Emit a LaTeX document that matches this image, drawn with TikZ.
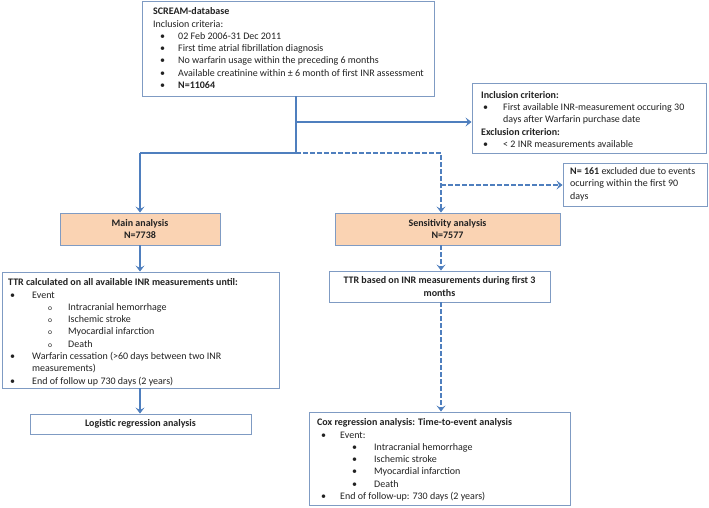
\documentclass[tikz,border=0pt]{standalone}
\usepackage{fontspec}
\setmainfont{Carlito}
\usetikzlibrary{arrows.meta}
\definecolor{boxline}{HTML}{7F9BC3}
\definecolor{arrowc}{HTML}{4F7FBE}
\definecolor{peach}{HTML}{FAD3B3}
\definecolor{txtc}{HTML}{222222}
\newcommand\itm[4]{\hspace*{#1pt}\makebox[\dimexpr #2pt-#1pt\relax][l]{#3}#4}
\newcommand\subm{{\fontsize{7.5}{7.5}\selectfont o}}
\tikzset{
  box/.style={draw=boxline, line width=0.9pt, fill=white, inner sep=0pt},
  txt/.style={anchor=north west, inner sep=0pt, align=left, text=txtc,
    font=\fontsize{10}{12.3}\selectfont},
  ctxt/.style={align=center, text=txtc, font=\fontsize{10}{12.3}\selectfont\bfseries},
  conn/.style={draw=arrowc, line width=1.9pt},
  dconn/.style={draw=arrowc, line width=1.7pt, dash pattern=on 4.5pt off 2.5pt},
  arr/.style={-{Stealth[length=6pt,width=9pt,inset=2.5pt]}}
}
\begin{document}
\begin{tikzpicture}[x=1pt,y=-1pt]
\useasboundingbox (0,0) rectangle (709,507);
% boxes
\node[box, minimum width=292pt, minimum height=95pt] (scream) at (288,48.5) {};
\node[box, minimum width=234pt, minimum height=70pt] (incl) at (589,118) {};
\node[box, minimum width=144pt, minimum height=43pt] (excl) at (635,184.5) {};
\node[box, fill=peach, minimum width=160pt, minimum height=32pt, ctxt] (main) at (140,229) {Main analysis\\N=7738};
\node[box, fill=peach, minimum width=225pt, minimum height=32pt, ctxt] (sens) at (447.5,229) {Sensitivity analysis\\N=7577};
\node[box, minimum width=277pt, minimum height=116pt] (ttr) at (140.5,330) {};
\node[box, minimum width=221pt, minimum height=20pt, ctxt] (logit) at (140.5,424) {Logistic regression analysis};
\node[box, minimum width=221pt, minimum height=31pt, ctxt] (ttr3) at (439.5,286.5) {TTR based on INR measurements during first 3\\months};
\node[box, minimum width=261pt, minimum height=93pt] (cox) at (439.5,458.5) {};
% texts
\node[txt] (screamtxt) at (153,7.5) {\textbf{SCREAM-database}\\
Inclusion criteria:\\
\itm{7}{25}{•}{02 Feb 2006-31 Dec 2011}\\
\itm{7}{25}{•}{First time atrial fibrillation diagnosis}\\
\itm{7}{25}{•}{No warfarin usage within the preceding 6 months}\\
\itm{7}{25}{•}{Available creatinine within ± 6 month of first INR assessment}\\
\itm{7}{25}{•}{\textbf{N=11064}}};
\node[txt] (incltxt) at (481,91) {\textbf{Inclusion criterion:}\\
\itm{2}{22}{•}{First available INR-measurement occuring 30}\\
\hspace*{22pt}days after Warfarin purchase date\\
\textbf{Exclusion criterion:}\\
\itm{2}{22}{•}{< 2 INR measurements available}};
\node[txt] (excltxt) at (570,167.5) {\textbf{N= 161} excluded due to events\\
ocurring within the first 90\\
days};
\node[txt] (ttrtxt) at (8,278.5) {\textbf{TTR calculated on all available INR measurements until:}\\
\itm{2}{24}{•}{Event}\\
\itm{40}{60}{\subm}{Intracranial hemorrhage}\\
\itm{40}{60}{\subm}{Ischemic stroke}\\
\itm{40}{60}{\subm}{Myocardial infarction}\\
\itm{40}{60}{\subm}{Death}\\
\itm{2}{24}{•}{Warfarin cessation (>60 days between two INR}\\
\hspace*{24pt}measurements)\\
\itm{2}{24}{•}{End of follow up 730 days (2 years)}};
\node[txt] (coxtxt) at (317,418.5) {\textbf{Cox regression analysis: Time-to-event analysis}\\
\itm{4}{23}{•}{Event:}\\
\itm{35}{57}{•}{Intracranial hemorrhage}\\
\itm{35}{57}{•}{Ischemic stroke}\\
\itm{35}{57}{•}{Myocardial infarction}\\
\itm{35}{57}{•}{Death}\\
\itm{4}{23}{•}{End of follow-up: 730 days (2 years)}};
% connector coordinates
\coordinate (split) at (296,153);
\coordinate (ji) at (296,122);
\coordinate (jl) at (140,153);
\coordinate (jr) at (441,153);
\coordinate (jb) at (441,185);
% connectors
\draw[conn] (scream.south -| split) -- (split);
\draw[conn,arr] (ji) -- (ji -| incl.west);
\draw[conn] (split) -- (jl);
\draw[conn,arr] (jl) -- (main.north);
\draw[dconn,arr] (split) -- (jr) -- (jr |- sens.north);
\draw[dconn,arr] (jb) -- (jb -| excl.west);
\draw[conn,arr] (main.south) -- (ttr.north -| main.south);
\draw[conn,arr] (ttr.south -| main.south) -- (logit.north -| main.south);
\draw[dconn,arr] (jr |- sens.south) -- (jr |- ttr3.north);
\draw[dconn,arr] (jr |- ttr3.south) -- (jr |- cox.north);
\end{tikzpicture}
\end{document}
